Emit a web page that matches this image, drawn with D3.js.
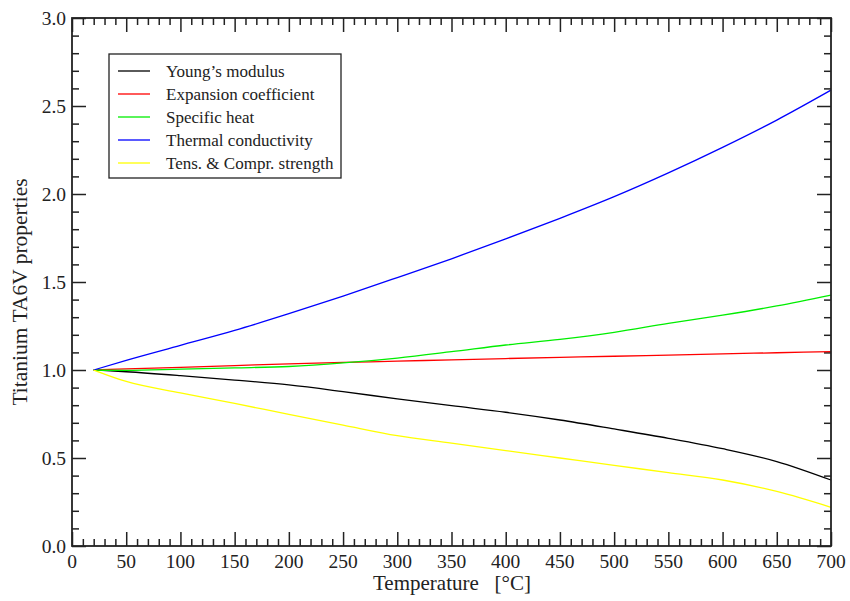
<!DOCTYPE html>
<html>
<head>
<meta charset="utf-8">
<script src="https://cdn.jsdelivr.net/npm/d3@7"></script>
<style>
  body { margin: 0; background: #fff; }
  text { font-family: "Liberation Serif", "DejaVu Serif", serif; fill: #222; }
</style>
</head>
<body>
<script>
var temps = [20, 50, 100, 150, 200, 250, 300, 350, 400, 450, 500, 550, 600, 650, 700];

var youngs    = [1.0, 0.99, 0.968, 0.943, 0.915, 0.877, 0.836, 0.797, 0.76, 0.716, 0.665, 0.612, 0.553, 0.48, 0.375];
var expansion = [1.0, 1.006, 1.015, 1.025, 1.035, 1.043, 1.05, 1.058, 1.065, 1.072, 1.078, 1.085, 1.092, 1.098, 1.104];
var specHeat  = [1.0, 0.998, 1.005, 1.012, 1.02, 1.04, 1.068, 1.104, 1.142, 1.174, 1.214, 1.265, 1.312, 1.364, 1.426];
var thermCond = [1.0, 1.055, 1.14, 1.225, 1.32, 1.42, 1.525, 1.632, 1.745, 1.862, 1.985, 2.12, 2.265, 2.42, 2.59];
var strength  = [1.0, 0.935, 0.87, 0.81, 0.748, 0.687, 0.627, 0.585, 0.542, 0.5, 0.458, 0.417, 0.375, 0.31, 0.22];

var seriesNames = ["Young\u2019s modulus", "Expansion coefficient", "Specific heat", "Thermal conductivity", "Tens. & Compr. strength"];
var seriesColors = ["#000000", "#ff0000", "#00ee00", "#0000ff", "#ffff00"];
var seriesValues = [youngs, expansion, specHeat, thermCond, strength];

var xTicks = [0, 50, 100, 150, 200, 250, 300, 350, 400, 450, 500, 550, 600, 650, 700];
var yTicks = [0, 0.5, 1.0, 1.5, 2.0, 2.5, 3.0];

var width = 850, height = 601;
var plotLeft = 72, plotRight = 831, plotTop = 18, plotBottom = 546;

var svg = d3.select('body').append('svg')
    .attr('width', width)
    .attr('height', height);

var x = d3.scaleLinear().domain([0, 700]).range([plotLeft, plotRight]);
var y = d3.scaleLinear().domain([0, 3]).range([plotBottom, plotTop]);

var majorLen = 14, minorLen = 7;
var xMinor = d3.range(0, 701, 10).filter(function (d) { return d % 50 != 0; });
var yMinor = d3.range(0, 31, 1).filter(function (d) { return d % 5 != 0; }).map(function (d) { return d / 10; });

// ticks on all four sides, pointing inwards
function addTicks(g, axis, tv, len) {
    g.call(axis.tickValues(tv).tickSize(len).tickFormat(''));
    g.select('.domain').remove();
    g.selectAll('line').attr('stroke', '#222').attr('stroke-width', 1.5);
}
addTicks(svg.append('g').attr('transform', 'translate(0,' + plotBottom + ')'), d3.axisTop(x), xTicks, majorLen);
addTicks(svg.append('g').attr('transform', 'translate(0,' + plotBottom + ')'), d3.axisTop(x), xMinor, minorLen);
addTicks(svg.append('g').attr('transform', 'translate(0,' + plotTop + ')'), d3.axisBottom(x), xTicks, majorLen);
addTicks(svg.append('g').attr('transform', 'translate(0,' + plotTop + ')'), d3.axisBottom(x), xMinor, minorLen);
addTicks(svg.append('g').attr('transform', 'translate(' + plotLeft + ',0)'), d3.axisRight(y), yTicks, majorLen);
addTicks(svg.append('g').attr('transform', 'translate(' + plotLeft + ',0)'), d3.axisRight(y), yMinor, minorLen);
addTicks(svg.append('g').attr('transform', 'translate(' + plotRight + ',0)'), d3.axisLeft(y), yTicks, majorLen);
addTicks(svg.append('g').attr('transform', 'translate(' + plotRight + ',0)'), d3.axisLeft(y), yMinor, minorLen);

// tick labels
svg.selectAll('.xlab').data(xTicks).enter().append('text')
    .attr('x', function (d) { return x(d); })
    .attr('y', plotBottom + 22)
    .attr('text-anchor', 'middle')
    .style('font-size', '19.5px')
    .text(function (d) { return d; });

svg.selectAll('.ylab').data(yTicks).enter().append('text')
    .attr('x', plotLeft - 6)
    .attr('y', function (d) { return y(d) + 6.5; })
    .attr('text-anchor', 'end')
    .style('font-size', '19.5px')
    .text(function (d) { return d.toFixed(1); });

// axis titles
svg.append('text')
    .attr('x', 373)
    .attr('y', 590)
    .style('font-size', '21px')
    .style('white-space', 'pre')
    .text('Temperature   [\u00B0C]');

svg.append('text')
    .attr('transform', 'translate(27,292) rotate(-90)')
    .attr('text-anchor', 'middle')
    .style('font-size', '21.5px')
    .text('Titanium TA6V properties');

// curves
var line = d3.line()
    .x(function (d, i) { return x(temps[i]); })
    .y(function (d) { return y(d); })
    .curve(d3.curveMonotoneX);

seriesValues.forEach(function (vals, i) {
    svg.append('path')
        .attr('d', line(vals))
        .attr('fill', 'none')
        .attr('stroke', seriesColors[i])
        .attr('stroke-width', 1.3);
});

// frame
svg.append('rect')
    .attr('x', plotLeft)
    .attr('y', plotTop)
    .attr('width', plotRight - plotLeft)
    .attr('height', plotBottom - plotTop)
    .attr('fill', 'none')
    .attr('stroke', '#222')
    .attr('stroke-width', 1.8);

// legend
var legend = svg.append('g');
legend.append('rect')
    .attr('x', 109)
    .attr('y', 54)
    .attr('width', 232)
    .attr('height', 124)
    .attr('fill', '#fff')
    .attr('stroke', '#222')
    .attr('stroke-width', 1.3);

seriesNames.forEach(function (name, i) {
    var ly = 71 + i * 23;
    legend.append('line')
        .attr('x1', 118).attr('x2', 150)
        .attr('y1', ly).attr('y2', ly)
        .attr('stroke', seriesColors[i])
        .attr('stroke-width', 1.3);
    legend.append('text')
        .attr('x', 166)
        .attr('y', ly + 5.5)
        .style('font-size', '17px')
        .text(name);
});
</script>
</body>
</html>
